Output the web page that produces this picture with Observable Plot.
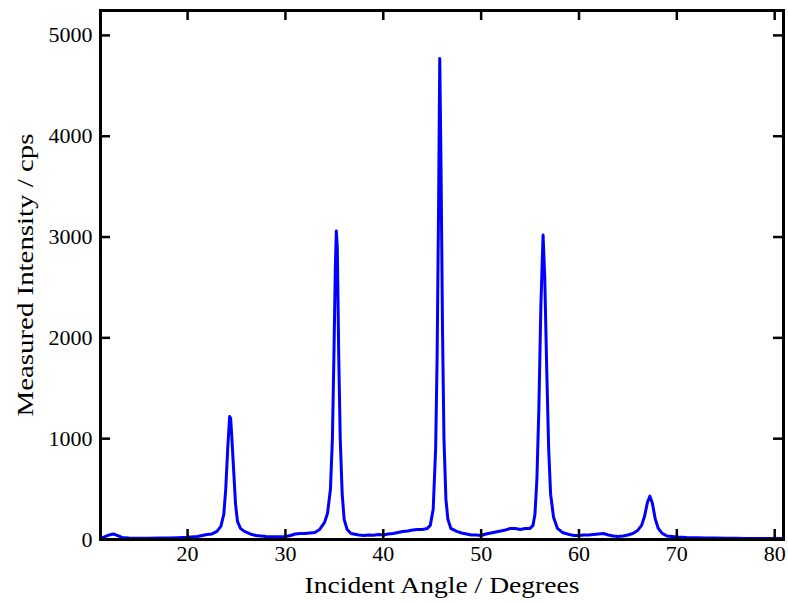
<!DOCTYPE html>
<html>
<head>
<meta charset="utf-8">
<script src="https://cdn.jsdelivr.net/npm/d3@7"></script>
<script src="https://cdn.jsdelivr.net/npm/@observablehq/plot@0.6"></script>
<style>
  html, body { margin: 0; padding: 0; background: #fff; }
  #chart svg { display: block; }
</style>
</head>
<body>
<div id="chart"></div>
<script>
const angle = [
  11.1, 11.5, 12.0, 12.4, 12.8, 13.3, 14, 15, 16, 17, 18, 19, 20, 21, 21.5, 22,
  22.5, 23.0, 23.4, 23.7, 23.9, 24.1, 24.3, 24.4, 24.5, 24.7, 24.9, 25.1, 25.4, 25.8, 26.4,
  27, 28, 29, 30, 30.5, 31, 31.5, 32, 32.5,
  33.0, 33.5, 34.0, 34.3, 34.6, 34.8, 34.95, 35.1, 35.2, 35.3, 35.45, 35.6, 35.8, 36.0, 36.3, 36.7, 37.5,
  38, 38.5, 39, 39.5, 40, 40.5, 41, 41.5, 42, 42.5, 43,
  43.5, 44.0, 44.5, 44.8, 45.1, 45.35, 45.5, 45.65, 45.77, 45.9, 46.05, 46.2, 46.4, 46.6, 46.9, 47.5,
  48, 48.5, 49, 49.5, 50, 50.5, 51, 51.5, 52, 52.5, 53, 53.5, 54,
  54.5, 55.0, 55.3, 55.5, 55.7, 55.9, 56.1, 56.33, 56.5, 56.7, 56.9, 57.1, 57.4, 57.8, 58.3, 59,
  59.5, 60, 60.5, 61, 61.5, 62, 62.5, 63, 63.5, 64, 64.5, 65,
  65.5, 66.0, 66.4, 66.7, 67.0, 67.25, 67.5, 67.8, 68.1, 68.5, 69, 70,
  71, 72, 73, 74, 75, 76, 77, 78, 79, 80, 80.9
];
const intensity = [
  15, 25, 45, 55, 40, 20, 15, 12, 12, 14, 15, 18, 22, 30, 40, 50,
  55, 80, 130, 250, 500, 900, 1220, 1200, 1050, 700, 350, 180, 110, 80, 55,
  40, 30, 28, 30, 40, 55, 60, 60, 65,
  70, 100, 170, 260, 500, 1000, 1800, 2700, 3060, 2900, 1800, 1000, 450, 200, 100, 60, 45,
  40, 45, 42, 50, 45, 55, 60, 70, 80, 85, 95,
  100, 100, 110, 140, 300, 900, 1800, 3300, 4770, 3700, 2100, 1000, 400, 200, 110, 80,
  65, 55, 45, 45, 40, 55, 65, 75, 85, 95, 110, 110, 100,
  110, 110, 140, 250, 600, 1300, 2300, 3020, 2600, 1700, 900, 450, 220, 110, 70, 50,
  40, 40, 45, 45, 50, 55, 60, 45, 35, 30, 35, 45,
  60, 90, 140, 230, 370, 430, 360, 200, 110, 60, 35, 25,
  20, 18, 15, 14, 12, 12, 10, 10, 10, 10, 10
];
const xTicks = [20, 30, 40, 50, 60, 70, 80];
const yTicks = [0, 1000, 2000, 3000, 4000, 5000];
const xLabel = "Incident Angle / Degrees";
const yLabel = "Measured Intensity / cps";

const data = angle.map((a, i) => ({angle: a, intensity: intensity[i]}));

const W = 788, H = 603;
const mL = 100, mR = 5, mT = 10, mB = 64;
const innerH = H - mT - mB;
const innerW = W - mL - mR;
const tickLen = 10;

const chart = Plot.plot({
  width: W,
  height: H,
  marginLeft: mL,
  marginRight: mR,
  marginTop: mT,
  marginBottom: mB,
  style: {fontFamily: "'Liberation Serif', serif", fontSize: "22px", color: "#000", background: "#fff"},
  x: {domain: [11.1, 80.9]},
  y: {domain: [0, 5247]},
  marks: [
    Plot.line(data, {x: "angle", y: "intensity", stroke: "#0000ff", strokeWidth: 3, strokeLinejoin: "round"}),
    Plot.ruleX(xTicks, {stroke: "#000", strokeWidth: 2.5, insetTop: innerH - tickLen}),
    Plot.ruleX(xTicks, {stroke: "#000", strokeWidth: 2.5, insetBottom: innerH - tickLen}),
    Plot.ruleY(yTicks, {stroke: "#000", strokeWidth: 2.5, insetRight: innerW - tickLen}),
    Plot.ruleY(yTicks, {stroke: "#000", strokeWidth: 2.5, insetLeft: innerW - tickLen}),
    Plot.frame({stroke: "#000", strokeWidth: 3}),
    Plot.axisX(xTicks, {tickSize: 0, tickPadding: 6, fontSize: 22, label: null, tickFormat: d => String(d)}),
    Plot.axisY(yTicks, {tickSize: 0, tickPadding: 8, fontSize: 22, label: null, tickFormat: d => String(d)}),
    Plot.text([xLabel], {frameAnchor: "bottom", dy: 46, lineAnchor: "middle", textAnchor: "middle", text: d => d, fontSize: 23, fill: "#000"}),
    Plot.text([yLabel], {frameAnchor: "left", dx: -75, rotate: -90, lineAnchor: "middle", textAnchor: "middle", text: d => d, fontSize: 23, fill: "#000"})
  ]
});
// widen the axis titles to the reference's (wider) serif face
d3.select(chart).selectAll("text").each(function() {
  const t = this.textContent;
  if (t === xLabel) { this.setAttribute("textLength", 275); this.setAttribute("lengthAdjust", "spacingAndGlyphs"); }
  if (t === yLabel) { this.setAttribute("textLength", 283); this.setAttribute("lengthAdjust", "spacingAndGlyphs"); }
});
document.getElementById("chart").appendChild(chart);
</script>
</body>
</html>
